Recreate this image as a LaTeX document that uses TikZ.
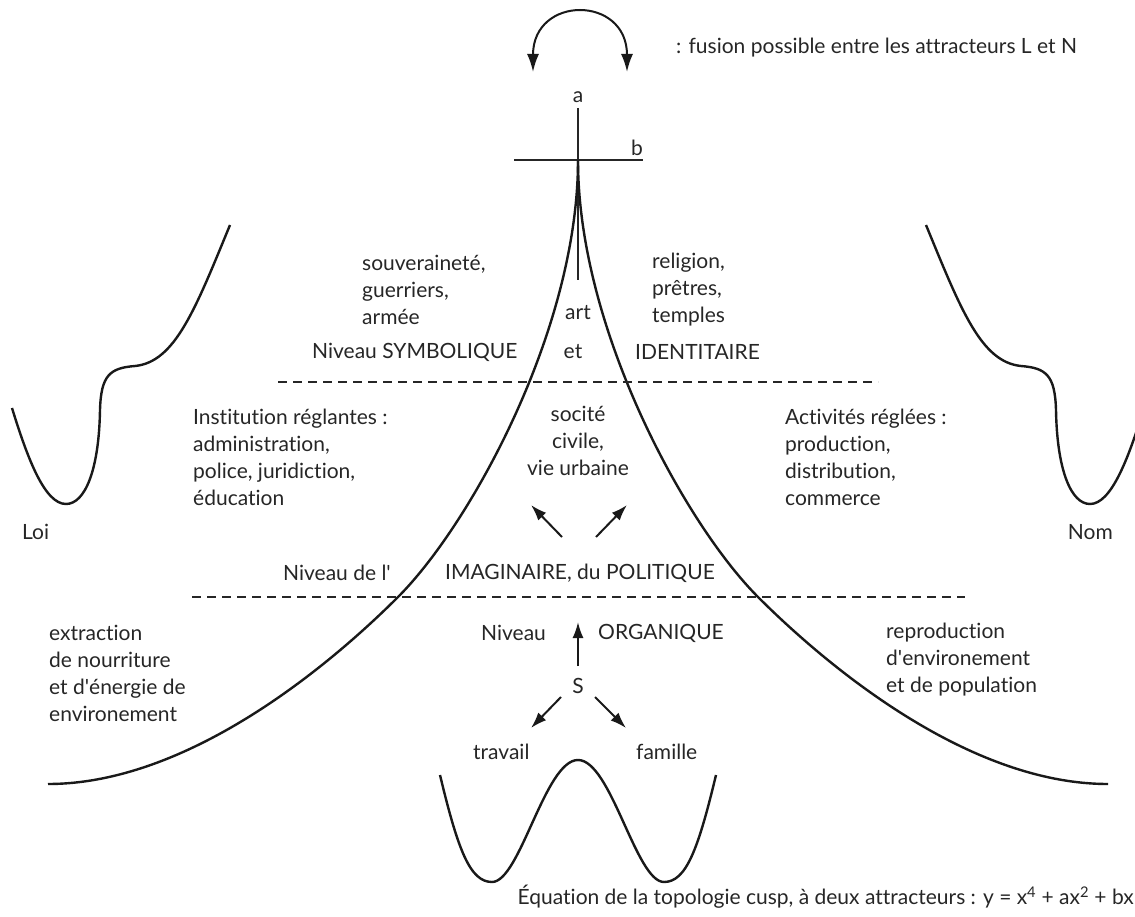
\documentclass[tikz,border=0pt]{standalone}
\usepackage{fontspec}
\setmainfont{Lato}[Ligatures={NoCommon}]
\usetikzlibrary{arrows.meta}
\begin{document}
\begin{tikzpicture}[x=1pt,y=-1pt,
  txt/.style={inner sep=0pt, font=\fontsize{21}{27}\selectfont, text=black!85},
  blk/.style={txt, align=left},
  curve/.style={line width=2.4pt, black!90},
  axis/.style={line width=2pt, black!85},
  dashline/.style={line width=1.8pt, black!85, dash pattern=on 9pt off 6pt},
  arr/.style={line width=2pt, black!90, -{Latex[length=16pt,width=11pt]}}
]
\useasboundingbox (0,0) rectangle (1135,917);

% top fusion arc
\coordinate (fusL) at (533,72);
\coordinate (fusR) at (627,72);
\draw[line width=2pt, black!90, {Latex[length=18pt,width=12pt]}-{Latex[length=18pt,width=12pt]}]
  (fusL) .. controls (533,-5) and (627,-5) .. (fusR);
\node[txt, anchor=west] (fusion) at (676,48) {: fusion possible entre les attracteurs L et N};

% axes
\node[txt] (la) at (578,97) {a};
\node[txt] (lb) at (637,148) {b};
\coordinate (atop) at (578,108);
\coordinate (abot) at (578,280);
\coordinate (bl) at (514,160);
\coordinate (br) at (643,160);
\coordinate (tip) at (578,160);
\draw[axis] (atop) -- (abot);
\draw[axis] (bl) -- (br);

% cusp
\coordinate (cl) at (398,597);
\coordinate (cr) at (758,597);
\coordinate (endl) at (48,784);
\coordinate (endr) at (1108,784);
\draw[curve] (tip) .. controls (578,330) and (470,525) .. (cl)
  .. controls (350,645) and (200,784) .. (endl);
\draw[curve] (tip) .. controls (578,330) and (686,525) .. (cr)
  .. controls (806,645) and (956,784) .. (endr);

% side potentials
\draw[curve] (230,225) .. controls (195,310) and (175,362) .. (135,366)
  .. controls (110,368) and (101,375) .. (100,410)
  .. controls (99,470) and (85,504) .. (66,504)
  .. controls (45,504) and (28,460) .. (12,408);
\draw[curve] (926,225) .. controls (961,310) and (981,362) .. (1021,366)
  .. controls (1046,368) and (1055,375) .. (1056,410)
  .. controls (1057,470) and (1071,504) .. (1090,504)
  .. controls (1111,504) and (1128,460) .. (1144,408);

% bottom double well
\draw[curve] (440,775) .. controls (458,850) and (470,882) .. (492,882)
  .. controls (520,882) and (545,760) .. (578,760)
  .. controls (611,760) and (636,882) .. (664,882)
  .. controls (686,882) and (698,850) .. (716,775);

% dashed levels
\draw[dashline] (278,382) -- (878,382);
\draw[dashline] (192,597) -- (965,597);

% texts
\node[blk, anchor=west] (souv) at (362,290) {souveraineté,\\guerriers,\\armée};
\node[blk, anchor=west] (relig) at (652,290) {religion,\\prêtres,\\temples};
\node[txt] (art) at (578,313) {art};
\node[txt, anchor=west] (nsym) at (312,352) {Niveau SYMBOLIQUE};
\node[txt] (et) at (573,352) {et};
\node[txt, anchor=west] (ident) at (635,352) {IDENTITAIRE};
\node[blk, anchor=west] (inst) at (193,457) {Institution réglantes :\\administration,\\police, juridiction,\\éducation};
\node[txt, align=center] (soc) at (578,441) {socité\\civile,\\vie urbaine};
\node[blk, anchor=west] (activ) at (785,457) {Activités réglées :\\production,\\distribution,\\commerce};
\node[txt, anchor=west] (loi) at (22,532) {Loi};
\node[txt, anchor=east] (nom) at (1113,532) {Nom};
\node[txt, anchor=west] (nimag) at (283,573) {Niveau de l\textquotesingle};
\node[txt, anchor=west] (imag) at (445,573) {IMAGINAIRE, du POLITIQUE};
\node[blk, anchor=west] (extr) at (49,673) {extraction\\de nourriture\\et d\textquotesingle énergie de\\environement};
\node[txt, anchor=west] (norg) at (481,633) {Niveau};
\node[txt, anchor=west] (org) at (598,633) {ORGANIQUE};
\node[txt] (S) at (578,686) {S};
\node[blk, anchor=west] (repro) at (886,660) {reproduction\\d\textquotesingle environement\\et de population};
\node[txt, anchor=west] (trav) at (473,752) {travail};
\node[txt, anchor=west] (fam) at (636,752) {famille};
\node[txt, anchor=east] (eq) at (1134,897) {Équation de la topologie cusp, à deux attracteurs : y = x\textsuperscript{4} + ax\textsuperscript{2} + bx};

% arrows
\coordinate (u1s) at (562,537); \coordinate (u1e) at (531,505);
\coordinate (u2s) at (596,537); \coordinate (u2e) at (627,505);
\draw[arr] (u1s) -- (u1e);
\draw[arr] (u2s) -- (u2e);
\coordinate (upS) at (578,622);
\coordinate (dlS) at (531,728);
\coordinate (drS) at (626,728);
\coordinate (s0) at (578,666);
\coordinate (s1) at (561,697);
\coordinate (s2) at (595,697);
\draw[arr] (s0) -- (upS);
\draw[arr] (s1) -- (dlS);
\draw[arr] (s2) -- (drS);
\end{tikzpicture}
\end{document}
